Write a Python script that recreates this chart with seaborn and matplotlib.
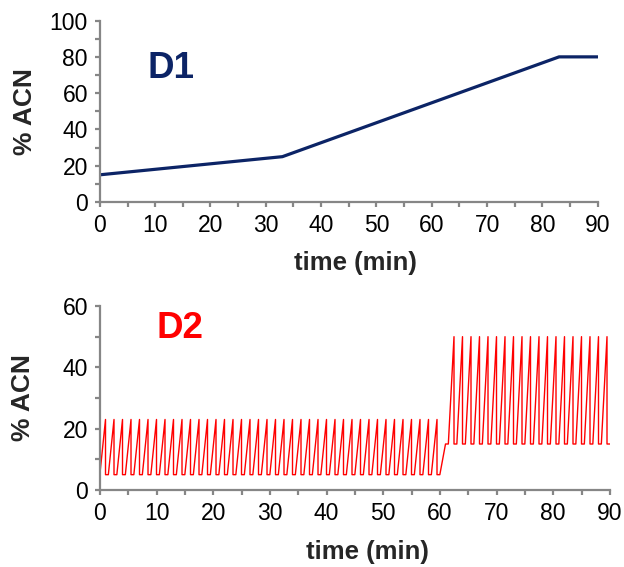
import matplotlib
matplotlib.use("Agg")
import matplotlib.pyplot as plt
from matplotlib.ticker import MultipleLocator
import pandas as pd
import seaborn as sns

# ============================================
# DATA
# ============================================
# D1 : linear gradient (time in min, % ACN)
d1_time = [0, 33, 83, 90]
d1_acn = [15, 25, 80, 80]

# D2 : repeated fast gradients, one cycle every 1.5 min
# (ramp for 1.0 min, then drop and hold for 0.5 min)
d2_cycle_min = 1.5
d2_ramp_min = 1.0
# per-cycle values: start level, top of the ramp, level after the drop
d2_start = [5] * 40 + [5] + [15] * 19
d2_top = [23] * 40 + [15] + [50] * 19
d2_floor = [5] * 40 + [15] + [15] * 19

x_ticks = [0, 10, 20, 30, 40, 50, 60, 70, 80, 90]
d1_y_ticks = [0, 20, 40, 60, 80, 100]
d2_y_ticks = [0, 20, 40, 60]

# build the D2 trace point list from the cycle table
d2_time, d2_acn = [], []
for k in range(len(d2_top)):
    s = k * d2_cycle_min
    d2_time += [s, s + d2_ramp_min, s + d2_ramp_min, s + d2_cycle_min]
    d2_acn += [d2_start[k], d2_top[k], d2_floor[k], d2_floor[k]]

df1 = pd.DataFrame({"time": d1_time, "acn": d1_acn})
df2 = pd.DataFrame({"time": d2_time, "acn": d2_acn})

# ============================================
# STYLE
# ============================================
sns.set_theme(style="ticks")
plt.rcParams["font.family"] = ["Liberation Sans", "DejaVu Sans"]

navy = "#0C2466"
red = "#FF0000"
grey = "#868686"

fig = plt.figure(figsize=(6.24, 5.67), dpi=100)
ax1 = fig.add_axes([0.160, 0.6437, 0.798, 0.320])
ax2 = fig.add_axes([0.160, 0.1358, 0.8173, 0.3245])

sns.lineplot(data=df1, x="time", y="acn", ax=ax1, color=navy, linewidth=2.3,
             estimator=None, sort=False)
sns.lineplot(data=df2, x="time", y="acn", ax=ax2, color=red, linewidth=1.0,
             estimator=None, sort=False)


def style_axes(ax, yticks, xlabel_pos, ylabel_pos):
    ax.set_xlim(0, 90)
    ax.set_ylim(yticks[0], yticks[-1])
    ax.set_xticks(x_ticks)
    ax.set_yticks(yticks)
    ax.xaxis.set_minor_locator(MultipleLocator(5))
    ax.yaxis.set_minor_locator(MultipleLocator(10))
    for side in ["top", "right"]:
        ax.spines[side].set_visible(False)
    for side in ["left", "bottom"]:
        ax.spines[side].set_color(grey)
        ax.spines[side].set_linewidth(1.6)
    ax.tick_params(which="both", direction="out", length=3.6, width=1.6,
                   color=grey, labelsize=16.5, labelcolor="black", pad=5)
    ax.set_xlabel("time (min)", fontsize=18.5, fontweight="bold")
    ax.set_ylabel("% ACN", fontsize=19, fontweight="bold")
    ax.xaxis.set_label_coords(*xlabel_pos)
    ax.yaxis.set_label_coords(*ylabel_pos)
    ax.xaxis.label.set_va("center")
    ax.yaxis.label.set_va("center")
    ax.set_facecolor("white")


style_axes(ax1, d1_y_ticks, (0.514, -0.336), (-0.150, 0.5))
style_axes(ax2, d2_y_ticks, (0.525, -0.337), (-0.151, 0.5))

ax1.text(0.096, 0.684, "D1", transform=ax1.transAxes, color=navy,
         fontsize=26.5, fontweight="bold", ha="left", va="baseline")
ax2.text(0.112, 0.828, "D2", transform=ax2.transAxes, color=red,
         fontsize=26.5, fontweight="bold", ha="left", va="baseline")

fig.savefig("out.png", dpi=100, facecolor="white")
